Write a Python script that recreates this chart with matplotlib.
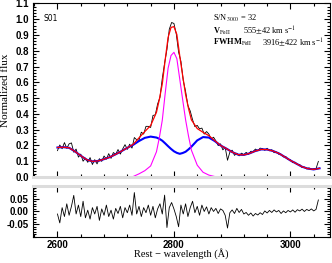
import numpy as np
import matplotlib
matplotlib.use("Agg")
import matplotlib.pyplot as plt
from matplotlib.ticker import MultipleLocator, FormatStrFormatter

plt.rcParams["font.family"] = ["Liberation Sans", "DejaVu Sans"]
plt.rcParams["mathtext.fontset"] = "stix"
plt.rcParams["axes.unicode_minus"] = False

# --- model components (Fe II template, Mg II line) ---
wave_model = [2600, 2610, 2620, 2630, 2640, 2650, 2660, 2670, 2680, 2690,
              2700, 2710, 2720, 2730, 2740, 2750, 2760, 2770,
              2775, 2780, 2785, 2790, 2795, 2800, 2805, 2810, 2815, 2820, 2825, 2830,
              2840, 2850, 2860, 2870, 2880, 2890, 2900, 2910, 2920, 2930,
              2940, 2950, 2960, 2970, 2980, 2990, 3000, 3010, 3020, 3030, 3040, 3050]
feii = [.187, .189, .185, .162, .135, .110, .099, .102, .113, .126,
        .144, .164, .185, .204, .228, .248, .256, .250,
        .242, .230, .213, .195, .178, .163, .153, .147, .152, .160, .175, .192,
        .232, .253, .250, .228, .200, .180, .158, .142, .140, .150,
        .165, .175, .174, .165, .150, .128, .105, .085, .065, .053, .048, .055]
mgii = [0, 0, 0, 0, 0, 0, 0, 0, 0, 0,
        0, 0, 0, .003, .020, .040, .070, .160,
        .250, .360, .530, .690, .770, .790, .750, .620, .490, .363, .260, .170,
        .075, .030, .012, .003, 0, 0, 0, 0, 0, 0,
        0, 0, 0, 0, 0, 0, 0, 0, 0, 0, 0, 0]

# --- observed spectrum and fit residual (4 A sampling) ---
wave = np.arange(2600, 3052, 4)
flux = [.167, .203, .179, .218, .182, .210, .216, .157, .177, .126,
        .145, .100, .120, .093, .123, .079, .110, .083, .116, .099,
        .133, .113, .148, .118, .155, .144, .174, .145, .178, .205,
        .175, .208, .183, .250, .236, .233, .284, .272, .321, .321,
        .314, .390, .394, .463, .505, .625, .722, .808, .936, .979,
        .973, .907, .791, .733, .612, .543, .453, .418, .363, .319,
        .327, .305, .310, .272, .288, .272, .241, .252, .229, .199,
        .210, .172, .188, .106, .157, .170, .137, .151, .134, .151,
        .142, .156, .144, .163, .162, .177, .166, .183, .180, .169,
        .182, .166, .173, .154, .158, .144, .145, .127, .130, .111,
        .109, .091, .094, .079, .079, .060, .063, .051, .058, .047,
        .052, .053, .099]
resid = [-.010, -.045, .015, -.020, .030, -.015, .020, .063, -.010, .025,
         -.020, .040, -.025, .005, -.030, .015, -.010, .020, -.035, .010,
         -.015, .025, -.020, .005, -.030, .012, -.008, .020, -.025, .015,
         -.005, .025, -.015, .074, -.010, .020, -.020, .015, -.005, .025,
         -.015, .020, -.025, .010, .030, -.010, .064, -.063, .015, .035,
         .010, -.020, -.060, .025, -.010, .030, -.020, .015, .040, -.005,
         .020, -.015, .025, .000, .018, -.010, .015, .000, .012, -.008,
         .010, .004, -.015, -.065, -.005, .006, -.008, .012, -.004, .008,
         -.010, -.004, -.015, -.006, -.018, -.008, -.014, -.005, -.012, .002,
         -.006, .004, -.004, .006, -.002, .004, -.008, .002, -.005, .004,
         -.002, .006, -.003, .007, .002, .009, .000, .008, .003, .010,
         .002, .008, .045]

total = np.array(feii) + np.array(mgii)

fig = plt.figure(figsize=(3.32, 2.63), dpi=100)
ax1 = fig.add_axes([0.0994, 0.327, 0.8946, 0.660])
ax2 = fig.add_axes([0.0994, 0.099, 0.8946, 0.194])

ax1.plot(wave, flux, color="black", lw=0.6)
ax1.plot(wave_model, feii, color="#0000ff", lw=1.5)
ax1.plot(wave_model, mgii, color="#ff00ff", lw=0.8)
ax1.plot(wave_model, total, color="#ff0000", lw=0.9)
ax2.plot(wave, resid, color="black", lw=0.6)

for ax in (ax1, ax2):
    ax.set_xlim(2558, 3068)
    ax.xaxis.set_major_locator(MultipleLocator(200))
    ax.xaxis.set_minor_locator(MultipleLocator(40))
    ax.tick_params(which="both", direction="in", top=True, right=True,
                   width=0.8, labelsize=7)
    ax.tick_params(which="major", length=4.5)
    ax.tick_params(which="minor", length=2.5)
    for sp in ax.spines.values():
        sp.set_linewidth(0.8)

ax1.set_ylim(0, 1.1)
ax1.yaxis.set_major_locator(MultipleLocator(0.1))
ax1.yaxis.set_minor_locator(MultipleLocator(0.02))
ax1.yaxis.set_major_formatter(FormatStrFormatter("%.1f"))
ax1.tick_params(axis="x", labelbottom=False)
ax1.tick_params(axis="y", pad=3)
ax1.spines["bottom"].set_color("#dcdcdc")
ax1.spines["bottom"].set_linewidth(2.2)

ax2.set_ylim(-0.1, 0.1)
ax2.set_yticks([-0.05, 0.0, 0.05])
ax2.yaxis.set_minor_locator(MultipleLocator(0.01))
ax2.yaxis.set_major_formatter(FormatStrFormatter("%.2f"))
ax2.tick_params(axis="y", pad=3)
ax2.tick_params(axis="x", pad=2)
ax2.spines["top"].set_color("#dcdcdc")
ax2.spines["top"].set_linewidth(2.2)

for ax in (ax1, ax2):
    for lab in ax.get_xticklabels() + ax.get_yticklabels():
        lab.set_fontweight("bold")

serif = ["Liberation Serif", "DejaVu Serif"]
ax1.set_ylabel("Normalized flux", family=serif, fontsize=8)
ax1.yaxis.set_label_coords(-0.078, 0.5)
ax2.set_xlabel("Rest \u2212 wavelength (\u00c5)", family=serif, fontsize=7.5)
ax2.xaxis.set_label_coords(0.5, -0.22)

ax1.text(0.037, 0.911, "S01", transform=ax1.transAxes, fontsize=5.5,
         family="DejaVu Sans", va="center")
ax1.text(0.606, 0.915, r"S/N$_{3000}$ = 32", transform=ax1.transAxes,
         fontsize=6, family=serif, va="center")
ax1.text(0.606, 0.841, r"V$_{\rm FeII}$", transform=ax1.transAxes,
         fontsize=6, family=serif, va="center", fontweight="bold")
ax1.text(0.707, 0.841, r"555$\pm$42 km s$^{-1}$", transform=ax1.transAxes,
         fontsize=6, family=serif, va="center")
ax1.text(0.606, 0.774, r"FWHM$_{\rm FeII}$", transform=ax1.transAxes,
         fontsize=6, family=serif, va="center", fontweight="bold")
ax1.text(0.771, 0.774, r"3916$\pm$422 km s$^{-1}$", transform=ax1.transAxes,
         fontsize=6, family=serif, va="center")

fig.savefig("out.png", dpi=100)
